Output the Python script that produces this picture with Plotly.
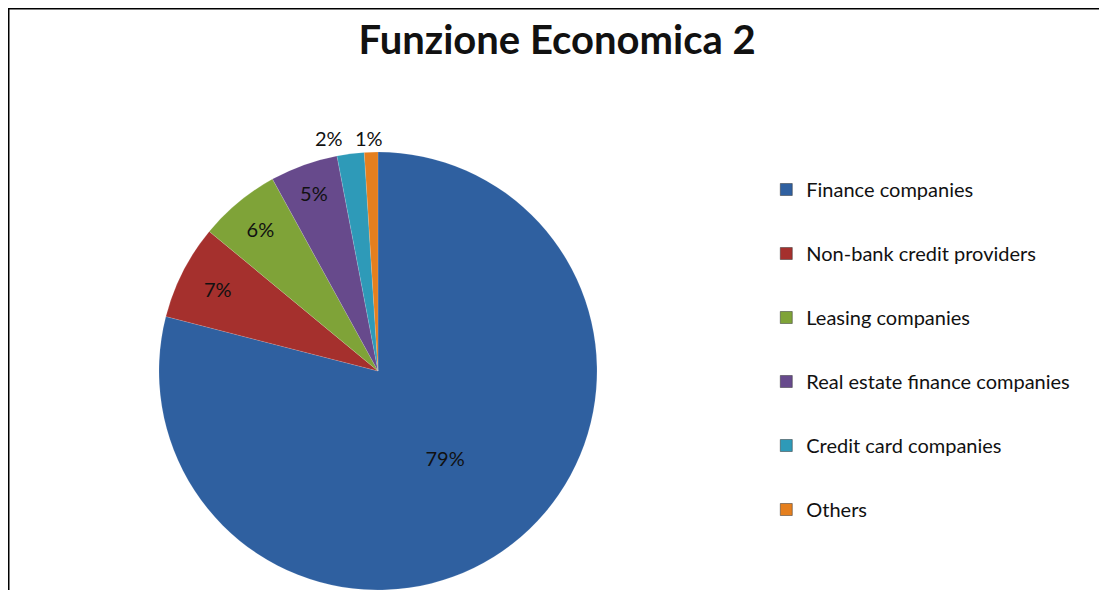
import plotly.graph_objects as go

labels = [
    "Finance companies",
    "Non-bank credit providers",
    "Leasing companies",
    "Real estate finance companies",
    "Credit card companies",
    "Others",
]
shares = [79, 7, 6, 5, 2, 1]
colors = ["#2F60A0", "#A5302D", "#7FA338", "#674A8C", "#2E9AB8", "#E57F1E"]
# the two thin slices get their labels above the pie, as in the original
text_pos = ["inside", "inside", "inside", "inside", "none", "none"]

W, H = 1107, 590
FONT = "Lato, 'Noto Sans', sans-serif"
CX = 370  # pie centre, px from left

fig = go.Figure()

fig.add_trace(go.Pie(
    labels=labels,
    values=shares,
    sort=False,
    direction="clockwise",
    rotation=0,
    marker=dict(colors=colors, line=dict(color="rgba(255,255,255,0.25)", width=0.5)),
    texttemplate="%{value}%",
    textposition=text_pos,
    insidetextorientation="horizontal",
    textfont=dict(family=FONT, size=20, color="#111111"),
    showlegend=False,
    domain=dict(x=[(CX - 220) / W, (CX + 220) / W], y=[8 / H, (H - 144) / H]),
    hoverinfo="label+percent",
))

# legend entries, one per category so they can be spaced like the original
for i, (lab, col) in enumerate(zip(labels, colors)):
    fig.add_trace(go.Scatter(
        x=[None], y=[None], mode="markers", name=lab,
        marker=dict(symbol="square", size=12, color=col, line=dict(color="#333333", width=0.5)),
        legendgroup=f"g{i}", showlegend=True,
    ))

annotations = []
for val, xpx in zip(shares[4:], [321, 361]):
    annotations.append(dict(
        text=f"{val}%", x=xpx / W, y=1 - 130 / H, xref="paper", yref="paper",
        showarrow=False, xanchor="center", yanchor="middle",
        font=dict(family=FONT, size=20, color="#111111"),
    ))

fig.update_layout(
    width=W, height=H,
    paper_bgcolor="white", plot_bgcolor="white",
    margin=dict(l=0, r=0, t=0, b=0),
    title=dict(text="<b>Funzione Economica 2</b>", x=0.496, xanchor="center", y=1 - 32 / H, yanchor="middle",
               font=dict(family=FONT, size=40, color="#111111")),
    xaxis=dict(visible=False), yaxis=dict(visible=False),
    legend=dict(x=0.685, xanchor="left", y=(H - 162) / H, yanchor="top",
                font=dict(family=FONT, size=20, color="#111111"),
                tracegroupgap=35, itemwidth=30, bgcolor="rgba(0,0,0,0)"),
    annotations=annotations,
    shapes=[
        dict(type="line", xref="paper", yref="paper", x0=0, x1=1, y0=1, y1=1,
             line=dict(color="#000000", width=3)),
        dict(type="line", xref="paper", yref="paper", x0=0, x1=0, y0=0, y1=1,
             line=dict(color="#000000", width=3)),
    ],
)

fig.write_html("out.html")
